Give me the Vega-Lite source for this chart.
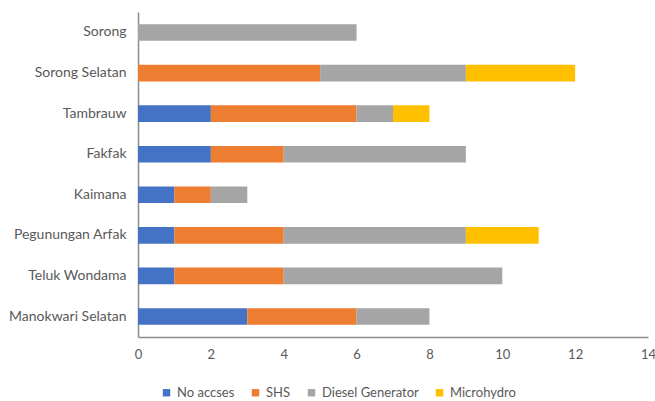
{
  "$schema": "https://vega.github.io/schema/vega-lite/v6.json",
  "width": 510,
  "height": 325,
  "autosize": "none",
  "padding": {"left": 138, "top": 12, "right": 7, "bottom": 64},
  "background": "white",
  "config": {
    "view": {"stroke": null},
    "font": "Lato"
  },
  "data": {
    "values": [
      {"region": "Sorong", "source": "Diesel Generator", "count": 6},
      {"region": "Sorong Selatan", "source": "SHS", "count": 5},
      {"region": "Sorong Selatan", "source": "Diesel Generator", "count": 4},
      {"region": "Sorong Selatan", "source": "Microhydro", "count": 3},
      {"region": "Tambrauw", "source": "No accses", "count": 2},
      {"region": "Tambrauw", "source": "SHS", "count": 4},
      {"region": "Tambrauw", "source": "Diesel Generator", "count": 1},
      {"region": "Tambrauw", "source": "Microhydro", "count": 1},
      {"region": "Fakfak", "source": "No accses", "count": 2},
      {"region": "Fakfak", "source": "SHS", "count": 2},
      {"region": "Fakfak", "source": "Diesel Generator", "count": 5},
      {"region": "Kaimana", "source": "No accses", "count": 1},
      {"region": "Kaimana", "source": "SHS", "count": 1},
      {"region": "Kaimana", "source": "Diesel Generator", "count": 1},
      {"region": "Pegunungan Arfak", "source": "No accses", "count": 1},
      {"region": "Pegunungan Arfak", "source": "SHS", "count": 3},
      {"region": "Pegunungan Arfak", "source": "Diesel Generator", "count": 5},
      {"region": "Pegunungan Arfak", "source": "Microhydro", "count": 2},
      {"region": "Teluk Wondama", "source": "No accses", "count": 1},
      {"region": "Teluk Wondama", "source": "SHS", "count": 3},
      {"region": "Teluk Wondama", "source": "Diesel Generator", "count": 6},
      {"region": "Manokwari Selatan", "source": "No accses", "count": 3},
      {"region": "Manokwari Selatan", "source": "SHS", "count": 3},
      {"region": "Manokwari Selatan", "source": "Diesel Generator", "count": 2}
    ]
  },
  "transform": [
    {"calculate": "indexof(['No accses', 'SHS', 'Diesel Generator', 'Microhydro'], datum.source)", "as": "stackOrder"}
  ],
  "mark": {"type": "bar"},
  "encoding": {
    "y": {
      "field": "region",
      "type": "nominal",
      "sort": ["Sorong", "Sorong Selatan", "Tambrauw", "Fakfak", "Kaimana", "Pegunungan Arfak", "Teluk Wondama", "Manokwari Selatan"],
      "scale": {"paddingInner": 0.59, "paddingOuter": 0.3},
      "axis": {
        "title": null,
        "ticks": false,
        "domainColor": "#8c8c8c",
        "domainWidth": 1.5,
        "labelFontSize": 14,
        "labelColor": "#595959",
        "labelPadding": 12,
        "labelLimit": 200
      }
    },
    "x": {
      "field": "count",
      "type": "quantitative",
      "stack": "zero",
      "scale": {"domain": [0, 14], "nice": false},
      "axis": {
        "title": null,
        "values": [0, 2, 4, 6, 8, 10, 12, 14],
        "grid": false,
        "ticks": false,
        "domainColor": "#8c8c8c",
        "domainWidth": 1.5,
        "labelFontSize": 13,
        "labelColor": "#595959",
        "labelPadding": 11,
        "labelFlush": false
      }
    },
    "order": {"field": "stackOrder", "type": "quantitative", "sort": "ascending"},
    "color": {
      "field": "source",
      "type": "nominal",
      "sort": ["No accses", "SHS", "Diesel Generator", "Microhydro"],
      "scale": {
        "domain": ["No accses", "SHS", "Diesel Generator", "Microhydro"],
        "range": ["#4472C4", "#ED7D31", "#A5A5A5", "#FFC000"]
      },
      "legend": {
        "title": null,
        "orient": "none",
        "direction": "horizontal",
        "legendX": 22,
        "legendY": 374,
        "symbolType": "square",
        "symbolSize": 55,
        "symbolStrokeWidth": 0,
        "symbolOffset": 0,
        "labelOffset": 4,
        "columnPadding": 14,
        "labelFontSize": 13,
        "labelColor": "#595959"
      }
    }
  }
}
